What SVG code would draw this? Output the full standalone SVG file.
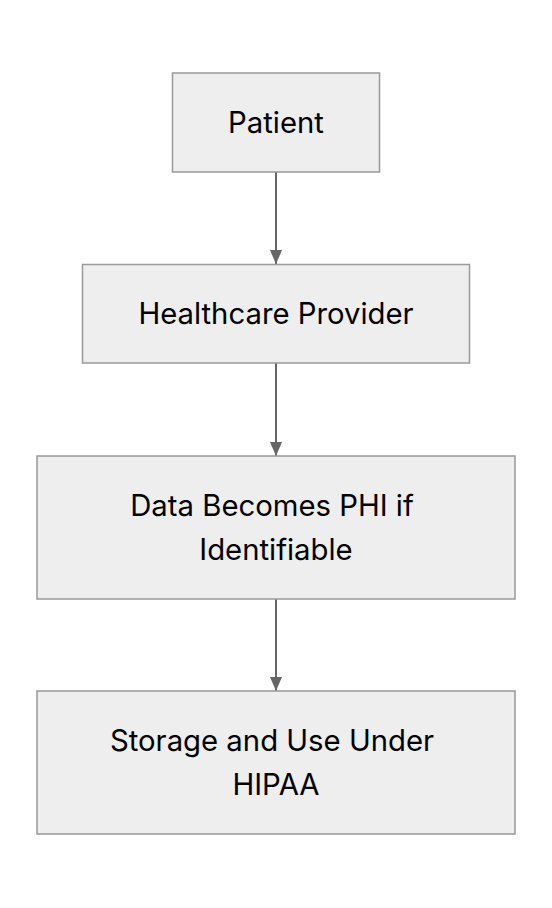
<svg xmlns="http://www.w3.org/2000/svg" width="552" height="908" viewBox="0 0 552 908">
<style>
.box{fill:#eeeeee;stroke:#999999;stroke-width:1.5}
.lbl{font-family:Inter,"Liberation Sans",sans-serif;font-size:29.3px;fill:#000;text-anchor:middle}
.edge{stroke:#666666;stroke-width:2;fill:none}
</style>
<defs>
<marker id="arr" markerWidth="14" markerHeight="12" refX="14" refY="6" orient="auto" markerUnits="userSpaceOnUse">
<path d="M0,0 L14,6 L0,12 Z" fill="#666666"/>
</marker>
</defs>
<rect width="552" height="908" fill="#ffffff"/>
<g id="edges">
<line class="edge" x1="276" y1="172" x2="276" y2="264" marker-end="url(#arr)"/>
<line class="edge" x1="276" y1="363" x2="276" y2="456" marker-end="url(#arr)"/>
<line class="edge" x1="276" y1="599" x2="276" y2="691" marker-end="url(#arr)"/>
</g>
<g id="patient">
<rect class="box" x="172.5" y="73" width="207" height="99"/>
<text class="lbl" x="276" y="133">Patient</text>
</g>
<g id="provider">
<rect class="box" x="82.5" y="264.5" width="387" height="98.5"/>
<text class="lbl" x="276" y="324">Healthcare Provider</text>
</g>
<g id="phi">
<rect class="box" x="37" y="456" width="478" height="143"/>
<text class="lbl" x="272" y="516">Data Becomes PHI if</text>
<text class="lbl" x="276" y="560">Identifiable</text>
</g>
<g id="storage">
<rect class="box" x="37" y="691" width="478" height="143"/>
<text class="lbl" x="272" y="751">Storage and Use Under</text>
<text class="lbl" x="276" y="795">HIPAA</text>
</g>
</svg>
